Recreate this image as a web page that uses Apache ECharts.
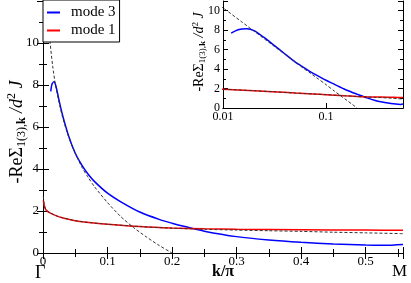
<!DOCTYPE html>
<html><head><meta charset="utf-8">
<script src="https://cdn.jsdelivr.net/npm/echarts@6/dist/echarts.min.js"></script>
<style>html,body{margin:0;padding:0;background:#fff}#c{width:411px;height:283px}</style>
</head><body><div id="c"></div>
<script>
// mode 3 (blue)
const blueK = [0.012,0.014,0.017,0.02,0.025,0.03,0.04,0.05,0.06,0.07,0.08,0.1,0.12,0.15,0.18,0.2,0.22,0.25,0.3,0.35,0.4,0.45,0.5,0.53,0.558];
const blueV = [7.7,8.05,8.15,7.95,7.25,6.6,5.55,4.75,4.2,3.75,3.4,2.85,2.45,1.95,1.6,1.42,1.26,1.04,0.78,0.62,0.51,0.43,0.38,0.37,0.41];
// mode 1 (red)
const redK = [0.0005,0.002,0.004,0.007,0.01,0.02,0.03,0.05,0.075,0.1,0.15,0.2,0.25,0.3,0.4,0.5,0.558];
const redV = [2.5,2.25,2.08,1.98,1.92,1.78,1.68,1.54,1.44,1.37,1.26,1.19,1.15,1.13,1.11,1.09,1.08];
// dashed fit for mode 3
const fit3K = [0.006,0.008,0.01,0.015,0.02,0.03,0.04,0.05,0.06,0.07,0.08,0.1,0.12,0.14,0.16,0.18,0.2];
const fit3V = [12.0,11.0,10.3,8.9,7.9,6.5,5.5,4.75,4.1,3.6,3.15,2.4,1.75,1.22,0.77,0.36,0.0];
// dashed fit for mode 1
const fit1K = [0.0005,0.002,0.004,0.007,0.01,0.02,0.03,0.05,0.075,0.1,0.15,0.2,0.25,0.3,0.35,0.4,0.45,0.5,0.558];
const fit1V = [2.7,2.3,2.1,1.99,1.93,1.78,1.68,1.54,1.44,1.37,1.26,1.18,1.13,1.09,1.06,1.03,0.99,0.96,0.92];
// ticks
const mainXTicks = [0,0.1,0.2,0.3,0.4,0.5];
const mainYTicks = [0,2,4,6,8,10];
const insetXTicks = [0.01,0.1];
const insetYTicks = [0,2,4,6,8,10];

const pairs = (k, v) => k.map((x, i) => [x, v[i]]);
const BLUE = '#0000ff', RED = '#ff0000';
const serif = 'Liberation Serif';
const lbl = {fontFamily: serif, fontSize: 13, color: '#000'};
const axLine = {show: true, lineStyle: {color: '#000', width: 1}};

function mkSeries(gi, k, v, color, name, dashed, z) {
  return {
    type: 'line', name: name, xAxisIndex: gi === 0 ? 0 : 2, yAxisIndex: gi === 0 ? 0 : 2,
    data: pairs(k, v), showSymbol: false, symbol: 'none', smooth: 0.25,
    lineStyle: {color: color, width: dashed ? 1 : 1.5, type: dashed ? [3, 2] : 'solid'},
    itemStyle: {color: color}, z: z, animation: false, silent: true
  };
}

const chart = echarts.init(document.getElementById('c'), null, {renderer: 'canvas'});
const option = {
  animation: false,
  backgroundColor: '#fff',
  legend: {
    left: 43, top: 0, orient: 'vertical', itemGap: 3, itemWidth: 13, itemHeight: 2,
    padding: [5, 4, 4, 4], borderColor: '#000', borderWidth: 1, backgroundColor: '#fff',
    icon: 'rect', data: ['mode 3', 'mode 1'],
    textStyle: {fontFamily: serif, fontSize: 15, color: '#000', padding: [0, 0, 0, 6]}, z: 20
  },
  grid: [
    {left: 43, right: 8, top: 1, bottom: 30, show: false},
    {left: 223, right: 8, top: 1, bottom: 175, show: true, backgroundColor: '#fff', borderWidth: 0, z: 5}
  ],
  xAxis: [
    {type: 'value', gridIndex: 0, min: 0, max: 0.558, interval: 0.1, position: 'bottom',
     axisLine: axLine, axisTick: {inside: true, length: 6, lineStyle: {color: '#000'}},
     minorTick: {show: true, splitNumber: 2, length: 4, lineStyle: {color: '#000'}},
     splitLine: {show: false},
     axisLabel: Object.assign({}, lbl, {margin: 2, showMaxLabel: false,
       formatter: v => mainXTicks.some(t => Math.abs(t - v) < 1e-6) ? String(v) : ''})},
    {type: 'value', gridIndex: 0, min: 0, max: 0.558, interval: 0.1, position: 'top',
     axisLine: axLine, axisTick: {inside: true, length: 6, lineStyle: {color: '#000'}},
     minorTick: {show: true, splitNumber: 2, length: 4, lineStyle: {color: '#000'}},
     splitLine: {show: false}, axisLabel: {show: false}},
    {type: 'log', gridIndex: 1, min: 0.01, max: 0.558, logBase: 10, position: 'bottom', z: 7,
     axisLine: axLine, axisTick: {inside: true, length: 5, lineStyle: {color: '#000'}},
     splitLine: {show: false}, minorTick: {show: false},
     axisLabel: Object.assign({}, lbl, {fontSize: 12, margin: 3, showMaxLabel: false,
       formatter: v => insetXTicks.some(t => Math.abs(t - v) < 1e-9) ? String(v) : ''})},
    {type: 'log', gridIndex: 1, min: 0.01, max: 0.558, logBase: 10, position: 'top', z: 7,
     axisLine: axLine, axisTick: {show: false}, splitLine: {show: false}, axisLabel: {show: false}}
  ],
  yAxis: [
    {type: 'value', gridIndex: 0, min: 0, max: 12, interval: 2, position: 'left',
     axisLine: axLine, axisTick: {inside: true, length: 6, lineStyle: {color: '#000'}},
     minorTick: {show: true, splitNumber: 2, length: 4, lineStyle: {color: '#000'}},
     splitLine: {show: false},
     axisLabel: Object.assign({}, lbl, {margin: 4, showMaxLabel: false,
       formatter: v => mainYTicks.includes(v) ? String(v) : ''})},
    {type: 'value', gridIndex: 0, min: 0, max: 12, interval: 2, position: 'right',
     axisLine: axLine, axisTick: {inside: true, length: 6, lineStyle: {color: '#000'}},
     minorTick: {show: true, splitNumber: 2, length: 4, lineStyle: {color: '#000'}},
     splitLine: {show: false}, axisLabel: {show: false}},
    {type: 'value', gridIndex: 1, min: 0, max: 11, interval: 2, position: 'left', z: 7,
     axisLine: axLine, axisTick: {inside: true, length: 5, lineStyle: {color: '#000'}},
     minorTick: {show: true, splitNumber: 2, length: 3, lineStyle: {color: '#000'}},
     splitLine: {show: false},
     axisLabel: Object.assign({}, lbl, {fontSize: 12, margin: 3, showMaxLabel: false,
       formatter: v => insetYTicks.includes(v) ? String(v) : ''})},
    {type: 'value', gridIndex: 1, min: 0, max: 11, interval: 2, position: 'right', z: 7,
     axisLine: axLine, axisTick: {inside: true, length: 5, lineStyle: {color: '#000'}},
     minorTick: {show: true, splitNumber: 2, length: 3, lineStyle: {color: '#000'}},
     splitLine: {show: false}, axisLabel: {show: false}}
  ],
  series: [
    mkSeries(0, fit3K, fit3V, '#333', 'fit3', true, 3),
    mkSeries(0, blueK, blueV, BLUE, 'mode 3', false, 2),
    mkSeries(0, redK, redV, RED, 'mode 1', false, 2),
    mkSeries(0, fit1K, fit1V, '#333', 'fit1', true, 3),
    mkSeries(1, fit3K, fit3V, '#333', 'fit3i', true, 9),
    mkSeries(1, blueK, blueV, BLUE, 'mode 3i', false, 8),
    mkSeries(1, redK, redV, RED, 'mode 1i', false, 8),
    mkSeries(1, fit1K, fit1V, '#333', 'fit1i', true, 9)
  ],
  graphic: [
    {type: 'text', left: 35, top: 264, z: 30, style: {text: 'Γ', font: '18px "Liberation Serif"', fill: '#000'}},
    {type: 'text', left: 392, top: 263, z: 30, style: {text: 'M', font: '17px "Liberation Serif"', fill: '#000'}},
    {type: 'text', left: 212, top: 264, z: 30, style: {text: 'k/π', font: 'bold 16px "Liberation Serif"', fill: '#000'}},
    {type: 'text', x: 17, y: 132, rotation: Math.PI / 2, z: 30,
     style: {
       text: '{a|-ReΣ}{s|1(3),}{sb|k}{a| }{i|/d}{p|2}{i| J}',
       align: 'center', verticalAlign: 'middle',
       rich: {
         a: {fontFamily: serif, fontSize: 18, lineHeight: 22, fill: '#000'},
         i: {fontFamily: serif, fontStyle: 'italic', fontSize: 18, lineHeight: 22, fill: '#000'},
         s: {fontFamily: serif, fontSize: 12, lineHeight: 12, verticalAlign: 'bottom', fill: '#000'},
         sb: {fontFamily: serif, fontWeight: 'bold', fontSize: 12, lineHeight: 12, verticalAlign: 'bottom', fill: '#000'},
         p: {fontFamily: serif, fontSize: 12, lineHeight: 12, verticalAlign: 'top', fill: '#000'}
       }
     }},
    {type: 'text', x: 199, y: 52, rotation: Math.PI / 2, z: 30,
     style: {
       text: '{a|-ReΣ}{s|1(3),}{sb|k}{a| }{i|/d}{p|2}{i| J}',
       align: 'center', verticalAlign: 'middle',
       rich: {
         a: {fontFamily: serif, fontSize: 14, lineHeight: 16, fill: '#000'},
         i: {fontFamily: serif, fontStyle: 'italic', fontSize: 14, lineHeight: 16, fill: '#000'},
         s: {fontFamily: serif, fontSize: 9, lineHeight: 9, verticalAlign: 'bottom', fill: '#000'},
         sb: {fontFamily: serif, fontWeight: 'bold', fontSize: 9, lineHeight: 9, verticalAlign: 'bottom', fill: '#000'},
         p: {fontFamily: serif, fontSize: 9, lineHeight: 9, verticalAlign: 'top', fill: '#000'}
       }
     }}
  ]
};
chart.setOption(option);
</script>
</body></html>
